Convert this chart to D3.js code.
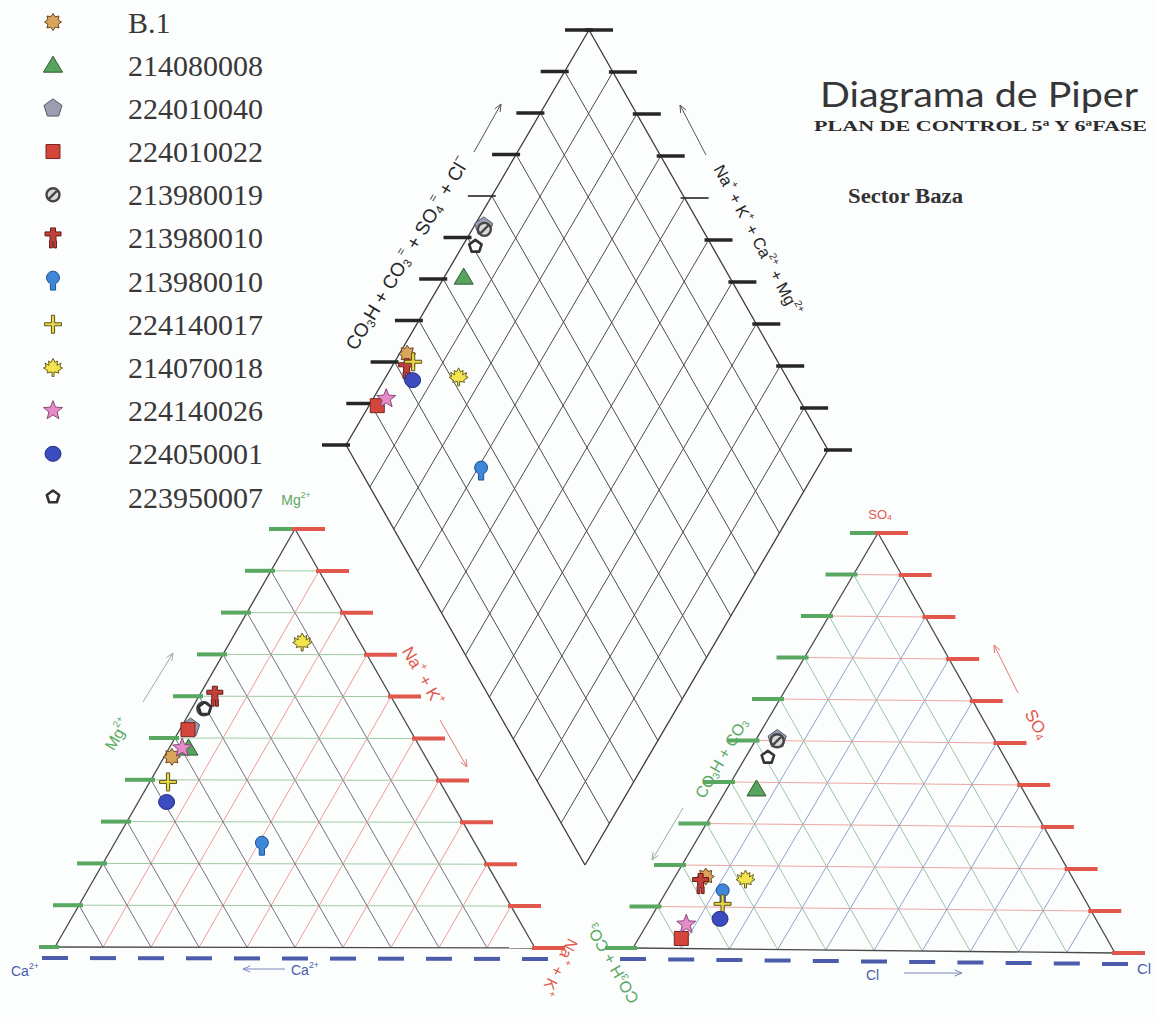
<!DOCTYPE html>
<html>
<head>
<meta charset="utf-8">
<script src="https://cdn.jsdelivr.net/npm/d3@7"></script>
<style>
  html, body { margin: 0; padding: 0; background: #fcfdfd; }
  svg { display: block; }
</style>
</head>
<body>
<svg id="chart" width="1158" height="1018"></svg>
<script>
// ---- samples (legend order) ----
const sampleIds   = ["B.1", "214080008", "224010040", "224010022", "213980019", "213980010",
                     "213980010", "224140017", "214070018", "224140026", "224050001", "223950007"];
const markerKinds = ["burst", "triangle", "pentagon", "square", "banned", "figure",
                     "bulb", "cross", "leaf", "star", "ellipse", "ring"];

// cations, % of meq
const caPct   = [52.9, 48.4, 45.5, 46.3, 40.5, 36.7, 44.8, 56.7, 12.0, 49.7, 59.4, 40.3];
const mgPct   = [45.5, 47.6, 52.5, 52.0, 57.0, 60.0, 24.2, 39.5, 73.0, 47.6, 34.7, 57.0];
const nakPct  = [ 1.6,  4.0,  2.0,  1.7,  2.5,  3.3, 31.0,  3.8, 15.0,  2.7,  5.9,  2.7];

// anions, % of meq
const hco3Pct = [76.4, 55.5, 45.3, 88.8, 45.5, 78.3, 74.9, 76.1, 68.4, 86.1, 78.4, 49.4];
const so4Pct  = [17.3, 38.4, 50.4,  2.4, 50.0, 15.6, 13.2, 10.8, 16.8,  5.8,  7.2, 46.0];
const clPct   = [ 6.3,  6.1,  4.3,  8.8,  4.5,  6.1, 11.9, 13.1, 14.8,  8.1, 14.4,  4.6];

// grid / tick levels (percent)
const gridLevels = [10, 20, 30, 40, 50, 60, 70, 80, 90];
const tickLevels = [0, 10, 20, 30, 40, 50, 60, 70, 80, 90, 100];

// ---- layout ----
const svg = d3.select("#chart");
const g = svg.append("g");

const frac = d3.scaleLinear().domain([0, 100]).range([0, 1]);

// ternary placement from three corner points
function ternary(A, B, C) {
  return (a, b, c) => {
    const fa = frac(a), fb = frac(b), fc = frac(c);
    return [A[0] * fa + B[0] * fb + C[0] * fc, A[1] * fa + B[1] * fb + C[1] * fc];
  };
}

// cation triangle: Ca (bottom-left), Na+K (bottom-right), Mg (top)
const catCorners = { ca: [55, 947], nak: [535, 948], mg: [295, 529] };
const catPos = ternary(catCorners.ca, catCorners.nak, catCorners.mg);   // (ca, nak, mg)

// anion triangle: HCO3 (bottom-left), Cl (bottom-right), SO4 (top)
const anCorners = { hco3: [633, 948], cl: [1115, 953], so4: [878, 533] };
const anPos = ternary(anCorners.hco3, anCorners.cl, anCorners.so4);     // (hco3, cl, so4)

// diamond: Na+K grows from the upper-left edge to the lower-right edge,
// SO4+Cl grows from the lower-left edge to the upper-right edge
const dL = [346, 445], dB = [585, 865], dT = [589, 30];
const dNx = d3.scaleLinear().domain([0, 100]).range([0, dB[0] - dL[0]]);
const dNy = d3.scaleLinear().domain([0, 100]).range([0, dB[1] - dL[1]]);
const dSx = d3.scaleLinear().domain([0, 100]).range([0, dT[0] - dL[0]]);
const dSy = d3.scaleLinear().domain([0, 100]).range([0, dT[1] - dL[1]]);
const diaPos = (nak, sc) => [dL[0] + dNx(nak) + dSx(sc), dL[1] + dNy(nak) + dSy(sc)];

function seg(parent, p, q, color, width) {
  return parent.append("line")
    .attr("x1", p[0]).attr("y1", p[1]).attr("x2", q[0]).attr("y2", q[1])
    .attr("stroke", color).attr("stroke-width", width);
}

function hTick(parent, p, left, right, color, width) {
  return parent.append("line")
    .attr("x1", p[0] - left).attr("y1", p[1]).attr("x2", p[0] + right).attr("y2", p[1])
    .attr("stroke", color).attr("stroke-width", width);
}

function arrow(parent, x1, y1, x2, y2, color) {
  parent.append("line").attr("x1", x1).attr("y1", y1).attr("x2", x2).attr("y2", y2)
    .attr("stroke", color).attr("stroke-width", 1);
  const a = Math.atan2(y2 - y1, x2 - x1), h = 8;
  parent.append("path")
    .attr("d", `M${x2 - h * Math.cos(a - 0.4)},${y2 - h * Math.sin(a - 0.4)}L${x2},${y2}L${x2 - h * Math.cos(a + 0.4)},${y2 - h * Math.sin(a + 0.4)}`)
    .attr("fill", "none").attr("stroke", color).attr("stroke-width", 1);
}

function richText(parent, x, y, parts, o) {
  const t = parent.append("text")
    .attr("transform", `translate(${x},${y}) rotate(${o.rotate || 0})`)
    .attr("text-anchor", o.anchor || "middle")
    .attr("dominant-baseline", "central")
    .attr("font-family", o.family || "'Liberation Sans', Arial, sans-serif")
    .attr("font-size", o.size)
    .attr("font-weight", o.weight || "normal")
    .attr("fill", o.color);
  let shift = 0;
  parts.forEach(p => {
    const [s, k] = Array.isArray(p) ? p : [p, null];
    const target = k === "sup" ? -0.38 * o.size : k === "sub" ? 0.25 * o.size : 0;
    const ts = t.append("tspan").text(s).attr("dy", target - shift);
    if (k) ts.attr("font-size", o.size * 0.62);
    shift = target;
  });
  return t;
}

const GREEN = "#58a862", RED = "#e2574c", BLUE = "#4a5cab";
const EDGE = "#4a4a4a";

// ---- cation triangle ----
const gc = g.append("g");
gridLevels.forEach(k => {
  // constant Mg (horizontal)
  seg(gc, catPos(100 - k, 0, k), catPos(0, 100 - k, k), "#9fcaa6", 1);
  // constant Na+K
  seg(gc, catPos(100 - k, k, 0), catPos(0, k, 100 - k), "#ec9c98", 1);
  // constant Ca
  seg(gc, catPos(k, 100 - k, 0), catPos(k, 0, 100 - k), "#70727c", 1);
});
seg(gc, catPos(100, 0, 0), catPos(0, 100, 0), EDGE, 1.3);
seg(gc, catPos(0, 100, 0), catPos(0, 0, 100), EDGE, 1.3);
seg(gc, catPos(0, 0, 100), catPos(100, 0, 0), EDGE, 1.3);
tickLevels.forEach(k => {
  hTick(gc, catPos(100 - k, 0, k), k === 0 ? 16 : 26, 4, GREEN, 4);
  hTick(gc, catPos(0, 100 - k, k), 3, 30, RED, 4);
});
tickLevels.forEach(k => {
  const p = catPos(100 - k, k, 0);
  hTick(gc, [p[0], p[1] + 11], 13, 13, BLUE, 4);
});

// ---- anion triangle ----
const ga = g.append("g");
gridLevels.forEach(k => {
  // constant SO4 (horizontal)
  seg(ga, anPos(100 - k, 0, k), anPos(0, 100 - k, k), "#eca6a2", 1);
  // constant Cl
  seg(ga, anPos(100 - k, k, 0), anPos(0, k, 100 - k), "#93a1cc", 1);
  // constant HCO3
  seg(ga, anPos(k, 100 - k, 0), anPos(k, 0, 100 - k), "#9cc6a6", 1);
});
seg(ga, anPos(100, 0, 0), anPos(0, 100, 0), EDGE, 1.3);
seg(ga, anPos(0, 100, 0), anPos(0, 0, 100), EDGE, 1.3);
seg(ga, anPos(0, 0, 100), anPos(100, 0, 0), EDGE, 1.3);
tickLevels.forEach(k => {
  hTick(ga, anPos(100 - k, 0, k), 28, 4, GREEN, 4);
  hTick(ga, anPos(0, 100 - k, k), 3, 30, RED, 4);
});
tickLevels.forEach(k => {
  const p = anPos(100 - k, k, 0);
  hTick(ga, [p[0], p[1] + 11], 13, 13, BLUE, 4);
});

// ---- diamond ----
const gd = g.append("g");
gridLevels.forEach(k => {
  seg(gd, diaPos(k, 0), diaPos(k, 100), "#4c4c4c", 1);
  seg(gd, diaPos(0, k), diaPos(100, k), "#4c4c4c", 1);
});
seg(gd, diaPos(0, 0), diaPos(100, 0), "#3a3a3a", 1.3);
seg(gd, diaPos(100, 0), diaPos(100, 100), "#3a3a3a", 1.3);
seg(gd, diaPos(100, 100), diaPos(0, 100), "#3a3a3a", 1.3);
seg(gd, diaPos(0, 100), diaPos(0, 0), "#3a3a3a", 1.3);
tickLevels.forEach(k => {
  hTick(gd, diaPos(0, k), 24, 4, "#262626", k === 60 ? 1.6 : 3.5);
  hTick(gd, diaPos(k, 100), 4, 24, "#262626", k === 40 ? 1.6 : 3.5);
});

// ---- marker shapes ----
function polyPath(pts) { return "M" + pts.map(p => p.join(",")).join("L") + "Z"; }
function starPts(n, ro, ri, rot) {
  const pts = [];
  for (let i = 0; i < 2 * n; i++) {
    const r = i % 2 === 0 ? ro : ri;
    const a = rot + Math.PI * i / n;
    pts.push([r * Math.sin(a), -r * Math.cos(a)]);
  }
  return pts;
}
function regPts(n, r) {
  const pts = [];
  for (let i = 0; i < n; i++) {
    const a = 2 * Math.PI * i / n;
    pts.push([r * Math.sin(a), -r * Math.cos(a)]);
  }
  return pts;
}
const shapes = {
  burst:    { d: polyPath(starPts(8, 8.5, 5.6, 0)), fill: "#d9a55c", stroke: "#6b4520", sw: 1 },
  triangle: { d: polyPath([[0, -9], [9.5, 7], [-9.5, 7]]), fill: "#58a45e", stroke: "#2c5a32", sw: 1 },
  pentagon: { d: polyPath(regPts(5, 9.5)), fill: "#9c9db0", stroke: "#56576a", sw: 1 },
  square:   { d: "M-7,-7H7V7H-7Z", fill: "#d4463c", stroke: "#7a2520", sw: 1 },
  banned:   { d: "M-6.5,0A6.5,6.5 0 1,0 6.5,0A6.5,6.5 0 1,0 -6.5,0ZM-4.6,4.6L4.6,-4.6", fill: "#d9d9d9", stroke: "#474747", sw: 2.4 },
  figure:   { d: "M-2.5,-10H2.5V-6H8V-2H3V3H3.5V10H0.7V4H-0.7V10H-3.5V3H-3V-2H-8V-6H-2.5Z", fill: "#c2403a", stroke: "#641a16", sw: 1 },
  bulb:     { d: "M-2.6,2.5A6.5,6.5 0 1,1 2.6,2.5V9H-2.6Z", fill: "#3d86d8", stroke: "#1e4f96", sw: 1 },
  cross:    { d: "M-1.6,-9H1.6V-1.5H8.5V1.5H1.6V9H-1.6V1.5H-8.5V-1.5H-1.6Z", fill: "#e8d64c", stroke: "#5e5518", sw: 1 },
  leaf:     { d: "M0,-9L2,-5L4.5,-6.5L4,-2L8,-4.5L7,-0.5L9.5,0.5L5,3.5L6,5.5L1,4.5L1,9L-1,9L-1,4.5L-6,5.5L-5,3.5L-9.5,0.5L-7,-0.5L-8,-4.5L-4,-2L-4.5,-6.5L-2,-5Z", fill: "#f2e44a", stroke: "#6a6020", sw: 1 },
  star:     { d: polyPath(starPts(5, 10, 4.3, 0)), fill: "#e58bc8", stroke: "#86487a", sw: 1 },
  ellipse:  { d: "M-8,0A8,7.5 0 1,0 8,0A8,7.5 0 1,0 -8,0Z", fill: "#3b4cbf", stroke: "#232f82", sw: 1 },
  ring:     { d: polyPath(regPts(5, 6.5)), fill: "#ffffff", stroke: "#333", sw: 2.6 }
};

const samples = sampleIds.map((id, i) => ({
  id, kind: markerKinds[i],
  ca: caPct[i], mg: mgPct[i], nak: nakPct[i],
  hco3: hco3Pct[i], so4: so4Pct[i], cl: clPct[i]
}));

function drawMarkers(parent, posFn) {
  parent.selectAll(null).data(samples).join("path")
    .attr("d", d => shapes[d.kind].d)
    .attr("fill", d => shapes[d.kind].fill)
    .attr("stroke", d => shapes[d.kind].stroke)
    .attr("stroke-width", d => shapes[d.kind].sw)
    .attr("stroke-linejoin", "round")
    .attr("transform", d => { const p = posFn(d); return `translate(${p[0]},${p[1]})`; });
}
drawMarkers(g.append("g"), d => catPos(d.ca, d.nak, d.mg));
drawMarkers(g.append("g"), d => anPos(d.hco3, d.cl, d.so4));
drawMarkers(g.append("g"), d => diaPos(d.nak, d.so4 + d.cl));

// ---- axis labels ----
const gl = g.append("g");
// diamond
richText(gl, 407, 253, ["CO", ["3", "sub"], "H + CO", ["3", "sub"], ["=", "sup"], " + SO", ["4", "sub"], ["=", "sup"], " + Cl", ["\u2212", "sup"]],
  { size: 19, color: "#262626", rotate: -59 });
arrow(gl, 474, 152, 501, 104, "#555");
richText(gl, 758, 240, ["Na", ["+", "sup"], " + K", ["+", "sup"], " + Ca", ["2+", "sup"], " + Mg", ["2+", "sup"]],
  { size: 16.5, color: "#262626", rotate: 62 });
arrow(gl, 706, 155, 680, 105, "#555");

// cation triangle
richText(gl, 296, 500, ["Mg", ["2+", "sup"]], { size: 14, color: GREEN });
richText(gl, 117, 734, ["Mg", ["2+", "sup"]], { size: 16, color: GREEN, rotate: -60 });
arrow(gl, 143, 702, 173, 653, "#93b39a");
richText(gl, 423, 676, ["Na", ["+", "sup"], " + K", ["+", "sup"]], { size: 17, color: RED, rotate: 60 });
arrow(gl, 440, 720, 467, 767, "#e07a74");
richText(gl, 11, 971, ["Ca", ["2+", "sup"]], { size: 14, color: BLUE, anchor: "start" });
richText(gl, 291, 970, ["Ca", ["2+", "sup"]], { size: 14, color: BLUE, anchor: "start" });
arrow(gl, 285, 969, 243, 969, "#7b88c0");
richText(gl, 560, 967, ["Na", ["+", "sup"], " + K", ["+", "sup"]], { size: 16, color: RED, rotate: 117 });

// anion triangle
richText(gl, 880, 514, ["SO", ["4", "sub"]], { size: 13, color: RED });
richText(gl, 721, 758, ["CO", ["3", "sub"], "H + CO", ["3", "sub"]], { size: 16, color: GREEN, rotate: -60 });
arrow(gl, 683, 808, 652, 860, "#93b39a");
richText(gl, 1037, 724, ["SO", ["4", "sub"]], { size: 17, color: RED, rotate: 60 });
arrow(gl, 1018, 693, 994, 645, "#e07a74");
richText(gl, 866, 975, ["Cl"], { size: 14, color: BLUE, anchor: "start" });
arrow(gl, 904, 973, 962, 973, "#7b88c0");
richText(gl, 1137, 968, ["Cl"], { size: 15, color: BLUE, anchor: "start" });
richText(gl, 612, 964, ["CO", ["3", "sub"], "H + CO", ["3", "sub"]], { size: 16, color: GREEN, rotate: 240 });

// ---- titles ----
g.append("text").attr("x", 820).attr("y", 107).text("Diagrama de Piper")
  .attr("font-family", "Lato, 'Liberation Sans', sans-serif").attr("font-size", 34)
  .attr("fill", "#363636").attr("textLength", 318).attr("lengthAdjust", "spacingAndGlyphs");
g.append("text").attr("x", 814).attr("y", 131).text("PLAN DE CONTROL 5\u00aa Y 6\u00aaFASE")
  .attr("font-family", "'Liberation Serif', serif").attr("font-size", 15).attr("font-weight", "bold")
  .attr("fill", "#2c2c2c").attr("textLength", 333).attr("lengthAdjust", "spacingAndGlyphs");
g.append("text").attr("x", 848).attr("y", 203).text("Sector Baza")
  .attr("font-family", "'Liberation Serif', serif").attr("font-size", 20).attr("font-weight", "bold")
  .attr("fill", "#333").attr("textLength", 115).attr("lengthAdjust", "spacingAndGlyphs");

// ---- legend ----
const rowY = d3.scaleLinear().domain([0, sampleIds.length - 1]).range([22, 497]);
const leg = g.append("g");
leg.selectAll(null).data(samples).join("path")
  .attr("d", d => shapes[d.kind].d)
  .attr("fill", d => shapes[d.kind].fill)
  .attr("stroke", d => shapes[d.kind].stroke)
  .attr("stroke-width", d => shapes[d.kind].sw)
  .attr("stroke-linejoin", "round")
  .attr("transform", (d, i) => `translate(53,${rowY(i)})`);
leg.selectAll(null).data(samples).join("text")
  .attr("x", 128).attr("y", (d, i) => rowY(i))
  .attr("dominant-baseline", "central")
  .attr("font-family", "'Liberation Serif', serif").attr("font-size", 30)
  .attr("fill", "#383838")
  .text(d => d.id);
</script>
</body>
</html>
